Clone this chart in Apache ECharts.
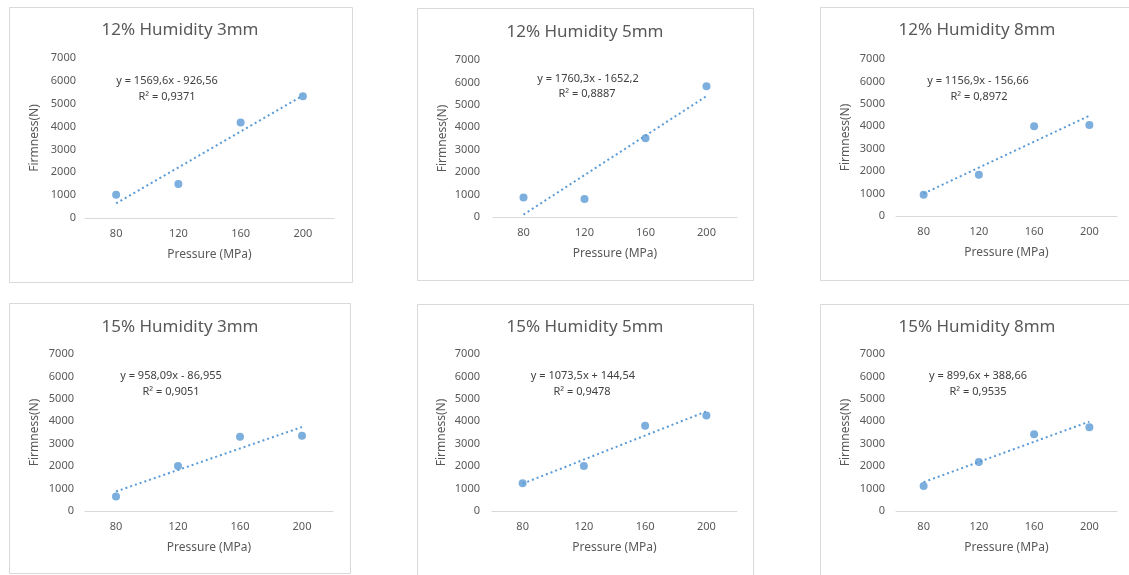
<!DOCTYPE html>
<html>
<head>
<meta charset="utf-8">
<title>Firmness vs Pressure</title>
<script src="https://cdn.jsdelivr.net/npm/echarts@6/dist/echarts.min.js"></script>
<style>
  html, body { margin: 0; padding: 0; background: #fff; }
  #main { width: 1129px; height: 575px; }
</style>
</head>
<body>
<div id="main"></div>
<script>
// categories on the x axis
const pressure = ['80', '120', '160', '200'];

// firmness values
const hum12mm3 = [1020, 1490, 4180, 5330];
const hum12mm5 = [870, 800, 3510, 5830];
const hum12mm8 = [950, 1840, 4000, 4060];
const hum15mm3 = [650, 2010, 3310, 3350];
const hum15mm5 = [1240, 2010, 3800, 4260];
const hum15mm8 = [1120, 2190, 3420, 3730];

// trendline ends at 80 and 200 (from the shown equations)
const trendStart = [643, 108, 1000, 871, 1218, 1288];
const trendEnd = [5352, 5389, 4471, 3745, 4439, 3987];

const panelTitles = ['12% Humidity 3mm', '12% Humidity 5mm', '12% Humidity 8mm',
  '15% Humidity 3mm', '15% Humidity 5mm', '15% Humidity 8mm'];
const equations = ['y = 1569,6x - 926,56', 'y = 1760,3x - 1652,2', 'y = 1156,9x - 156,66',
  'y = 958,09x - 86,955', 'y = 1073,5x + 144,54', 'y = 899,6x + 388,66'];
const rSquared = ['R² = 0,9371', 'R² = 0,8887', 'R² = 0,8972',
  'R² = 0,9051', 'R² = 0,9478', 'R² = 0,9535'];
const yTicks = [0, 7000, 1000]; // min, max, step

const allData = [hum12mm3, hum12mm5, hum12mm8, hum15mm3, hum15mm5, hum15mm8];

// layout of each panel (pixels)
const panels = [
  { box: [9.5, 7.5, 343, 275], grid: [85, 58, 249, 160], title: [180, 30], eq: [167, 81], r2: [167, 97], lm: 9 },
  { box: [417.5, 8.5, 336, 272], grid: [493, 60, 244, 157], title: [585, 32], eq: [588, 79], r2: [587, 94], lm: 13 },
  { box: [820.5, 7.5, 330, 273], grid: [896, 59, 221, 157], title: [977, 30], eq: [978, 81], r2: [979, 97], lm: 11 },
  { box: [9.5, 303.5, 341, 270], grid: [85, 354, 248, 157], title: [180, 327], eq: [171, 376], r2: [171, 392], lm: 11 },
  { box: [417.5, 304.5, 336, 290], grid: [492, 354, 245, 157], title: [585, 327], eq: [583, 376], r2: [582, 392], lm: 12 },
  { box: [820.5, 304.5, 330, 290], grid: [896, 354, 221, 157], title: [977, 327], eq: [978, 376], r2: [978, 392], lm: 11 }
];

const font = '"Noto Sans", "Open Sans", sans-serif';
const textColor = '#595959';
const blue = '#5B9BD5';

let grids = [], xAxes = [], yAxes = [], series = [], graphics = [];

panels.forEach((p, i) => {
  // chart border
  graphics.push({
    type: 'rect', z: 0,
    shape: { x: p.box[0], y: p.box[1], width: p.box[2], height: p.box[3] },
    style: { fill: 'none', stroke: '#D9D9D9', lineWidth: 1 }
  });
  graphics.push({
    type: 'text', z: 10,
    style: { x: p.title[0], y: p.title[1], text: panelTitles[i], align: 'center', verticalAlign: 'middle',
      font: '17px ' + font, fill: textColor }
  });
  graphics.push({
    type: 'text', z: 10,
    style: { x: p.eq[0], y: p.eq[1], text: equations[i], align: 'center', verticalAlign: 'middle',
      font: '11px ' + font, fill: '#404040' }
  });
  graphics.push({
    type: 'text', z: 10,
    style: { x: p.r2[0], y: p.r2[1], text: rSquared[i], align: 'center', verticalAlign: 'middle',
      font: '11px ' + font, fill: '#404040' }
  });

  grids.push({ left: p.grid[0], top: p.grid[1], width: p.grid[2], height: p.grid[3] });

  xAxes.push({
    type: 'category', gridIndex: i, data: pressure, boundaryGap: true,
    name: 'Pressure (MPa)', nameLocation: 'middle', nameGap: 31,
    nameTextStyle: { color: textColor, fontSize: 12, fontFamily: font },
    axisLine: { lineStyle: { color: '#D9D9D9', width: 1 } },
    axisTick: { show: false },
    axisLabel: { color: textColor, fontSize: 11, fontFamily: font, margin: 10 },
    splitLine: { show: false }
  });

  yAxes.push({
    type: 'value', gridIndex: i, min: yTicks[0], max: yTicks[1], interval: yTicks[2],
    name: 'Firmness(N)', nameLocation: 'middle', nameGap: 44, nameRotate: 90,
    nameTextStyle: { color: textColor, fontSize: 12, fontFamily: font },
    axisLine: { show: false },
    axisTick: { show: false },
    axisLabel: { color: textColor, fontSize: 11, fontFamily: font, margin: p.lm,
      formatter: v => String(v) }, // no thousands comma
    splitLine: { show: false }
  });

  // trendline
  series.push({
    type: 'line', xAxisIndex: i, yAxisIndex: i,
    data: [[0, trendStart[i]], [3, trendEnd[i]]],
    showSymbol: false, silent: true,
    lineStyle: { color: blue, width: 2, type: [2, 3] },
    z: 2
  });

  // measured points
  series.push({
    type: 'scatter', xAxisIndex: i, yAxisIndex: i,
    data: allData[i],
    symbol: 'circle', symbolSize: 8,
    itemStyle: { color: blue },
    z: 3
  });
});

let option = {
  animation: false,
  textStyle: { fontFamily: font },
  grid: grids,
  xAxis: xAxes,
  yAxis: yAxes,
  series: series,
  graphic: graphics
};

let myChart = echarts.init(document.getElementById('main'));
myChart.setOption(option);
</script>
</body>
</html>
